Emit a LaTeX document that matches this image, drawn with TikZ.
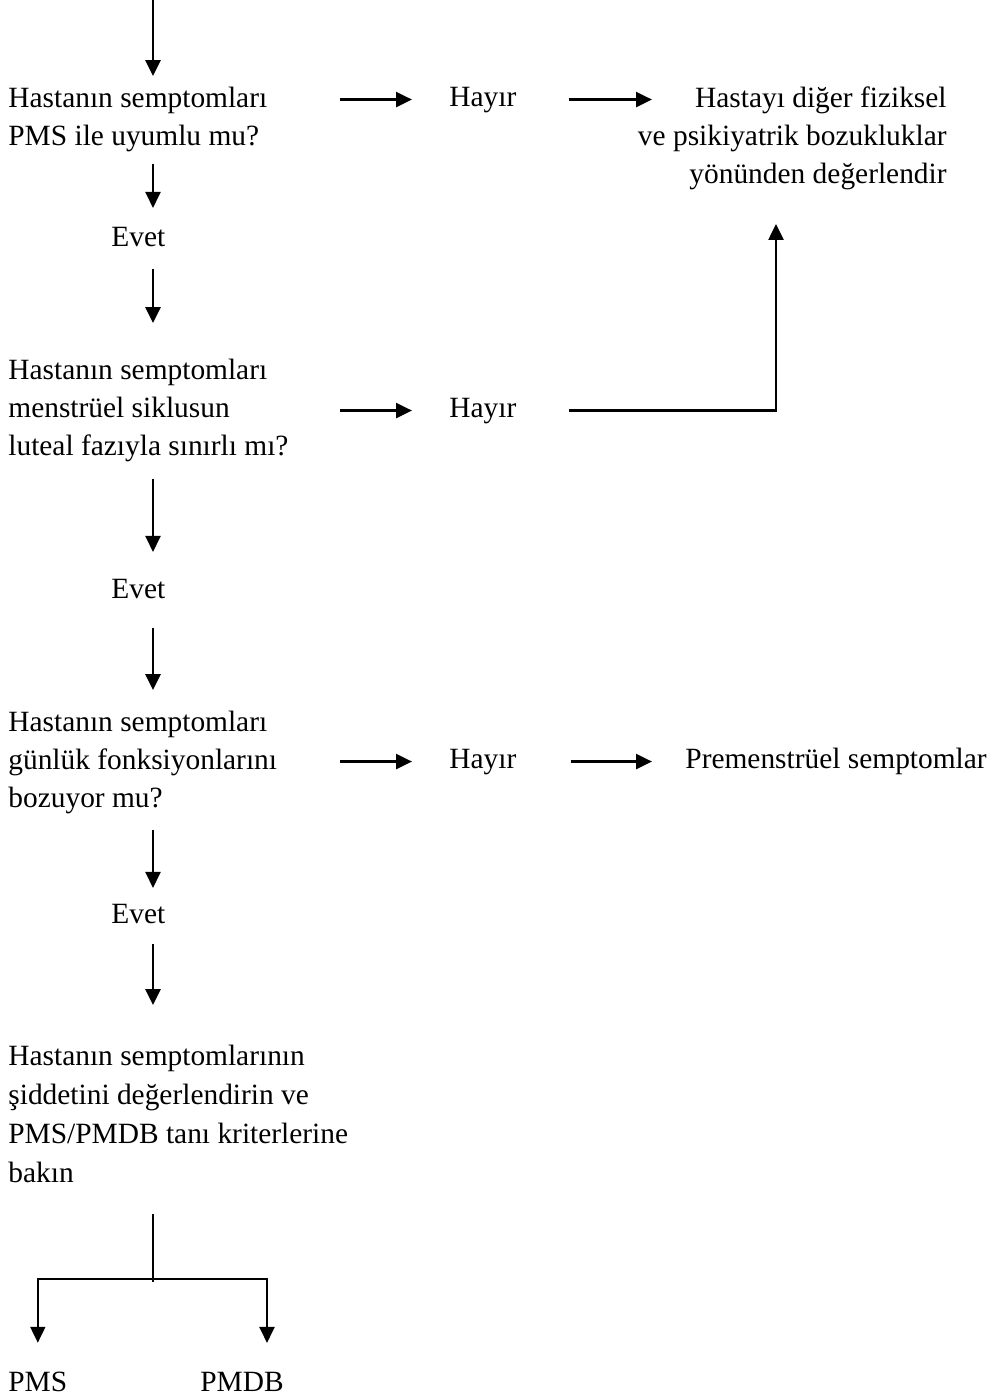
\documentclass[tikz,border=0pt]{standalone}
\usepackage{fontspec}
\setmainfont{Liberation Serif}
\usetikzlibrary{arrows.meta,positioning}
\tikzset{
 txt/.style={inner sep=0pt,font=\fontsize{14.7}{19}\selectfont},
 blk/.style={txt,align=left,anchor=north west},
 arr/.style={line width=1.2pt,-{Triangle[length=8pt,width=7.5pt]}},
 ln/.style={line width=0.7pt}
}
\begin{document}
\begin{tikzpicture}[x=0.5pt,y=-0.5pt]
 \useasboundingbox (0,0) rectangle (991,1397);
 \coordinate (top) at (153,0);
 \coordinate (cL) at (340,0);
 \coordinate (cR) at (652,0);
 \coordinate (cU) at (776,0);
 \coordinate (split) at (153,1279);
 \coordinate (bR) at (267,1279);
 \node[blk] (q1) at (8,86.5) {Hastanın semptomları\\PMS ile uyumlu mu?};
 \node[txt,anchor=base west] (e1) at (111,246) {Evet};
 \node[txt,anchor=base west] (h1) at (449,106) {Hayır};
 \node[blk,align=right,anchor=north east] (d1) at (947,86.5) {Hastayı diğer fiziksel\\ve psikiyatrik bozukluklar\\yönünden değerlendir};
 \node[blk] (q2) at (8,358.5) {Hastanın semptomları\\menstrüel siklusun\\luteal fazıyla sınırlı mı?};
 \node[txt,anchor=base west] (h2) at (449,417) {Hayır};
 \node[txt,anchor=base west] (e2) at (111,598) {Evet};
 \node[blk] (q3) at (8,710.5) {Hastanın semptomları\\günlük fonksiyonlarını\\bozuyor mu?};
 \node[txt,anchor=base west] (h3) at (449,768) {Hayır};
 \node[txt,anchor=base west] (p3) at (685,768) {Premenstrüel semptomlar};
 \node[txt,anchor=base west] (e3) at (111,923) {Evet};
 \node[blk,font=\fontsize{14.7}{19.6}\selectfont] (q4) at (8,1044.5) {Hastanın semptomlarının\\şiddetini değerlendirin ve\\PMS/PMDB tanı kriterlerine\\bakın};
 \node[txt,anchor=base west] (pms) at (8,1391) {PMS};
 \node[txt,anchor=base west] (pmdb) at (200,1391) {PMDB};
 \draw[arr,shorten >=5.2pt] (top) -- (top |- q1.north);
 \draw[arr,shorten <=5.8pt,shorten >=9.2pt] (top |- q1.south) -- (top |- e1.north);
 \draw[arr,shorten <=11pt,shorten >=17.7pt] (top |- e1.south) -- (top |- q2.north);
 \draw[arr,shorten <=8.3pt,shorten >=13.2pt] (top |- q2.south) -- (top |- e2.north);
 \draw[arr,shorten <=14.5pt,shorten >=10.2pt] (top |- e2.south) -- (top |- q3.north);
 \draw[arr,shorten <=7.8pt,shorten >=7.7pt] (top |- q3.south) -- (top |- e3.north);
 \draw[arr,shorten <=10pt,shorten >=19.7pt] (top |- e3.south) -- (top |- q4.north);
 \draw[arr,shorten >=18.5pt] (h1.west -| cL) -- (h1.west);
 \draw[arr,shorten <=26pt] (h1.east) -- (h1.east -| cR);
 \draw[arr,shorten >=18.5pt] (h2.west -| cL) -- (h2.west);
 \draw[arr,shorten <=26pt,shorten >=16.8pt] (h2.east) -| (cU |- d1.south);
 \draw[arr,shorten >=18.5pt] (h3.west -| cL) -- (h3.west);
 \draw[arr,shorten <=27pt,shorten >=16.5pt] (h3.east) -- (h3.east -| p3.west);
 \draw[ln,shorten <=15.2pt,shorten >=-1.5pt] (split |- q4.south) -- (split);
 \draw[arr,line width=1pt,shorten >=14.2pt] (split) -| (pms.north);
 \draw[arr,line width=1pt,shorten >=14.2pt] (split) -| (bR |- pmdb.north);
\end{tikzpicture}
\end{document}
